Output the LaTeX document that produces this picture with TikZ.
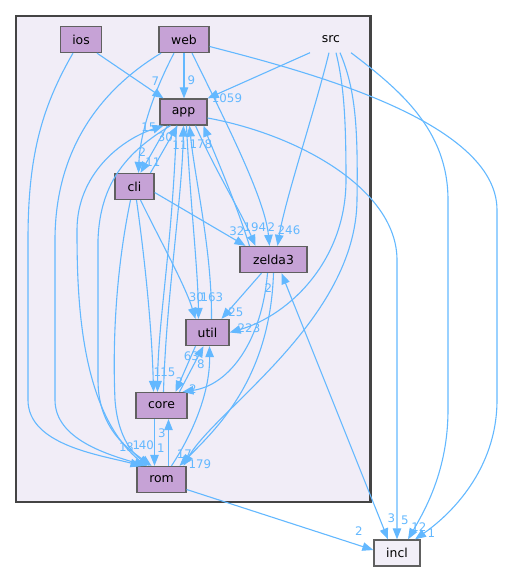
\documentclass[tikz,border=0pt]{standalone}
\usepackage{fontspec}
\setmainfont{DejaVu Sans}
\usetikzlibrary{arrows.meta}
\definecolor{edgecol}{HTML}{63B8FF}
\definecolor{dirfill}{HTML}{C6A2D6}
\definecolor{clusterfill}{HTML}{F1EDF7}
\definecolor{extfill}{HTML}{F2EFF8}
\definecolor{nodeborder}{HTML}{606060}
\definecolor{clusterborder}{HTML}{444444}
\begin{document}
\begin{tikzpicture}[x=1pt,y=-1pt,
  dirnode/.style={draw=nodeborder, fill=dirfill, line width=1.3pt, minimum height=26pt, inner sep=0pt, font=\fontsize{12.4}{14}\selectfont},
  extnode/.style={dirnode, fill=extfill},
  plainnode/.style={minimum height=26pt, minimum width=50pt, inner sep=0pt, font=\fontsize{12.4}{14}\selectfont},
  dep/.style={draw=edgecol, line width=1.1pt, -{Triangle[length=11pt,width=8.5pt]}},
  bidep/.style={draw=edgecol, line width=1.1pt, {Triangle[length=11pt,width=8.5pt]}-{Triangle[length=11pt,width=8.5pt]}},
  lbl/.style={text=edgecol, inner sep=0pt, font=\fontsize{11.8}{13}\selectfont},
]
\useasboundingbox (0,0) rectangle (504,571);
% cluster
\draw[draw=clusterborder, fill=clusterfill, line width=2.2pt] (16,16) rectangle (370.5,502);

% nodes
\node[dirnode, minimum width=41pt] (ios) at (81,39.5) {ios};
\node[dirnode, minimum width=50pt] (web) at (184,39.5) {web};
\node[plainnode] (src) at (331,39.5) {src};
\node[dirnode, minimum width=47pt] (app) at (183.5,112) {app};
\node[dirnode, minimum width=39pt] (cli) at (134.5,186.5) {cli};
\node[dirnode, minimum width=67pt] (zelda3) at (273.5,259.5) {zelda3};
\node[dirnode, minimum width=43pt] (util) at (207.5,332.5) {util};
\node[dirnode, minimum width=51pt] (core) at (161.5,405.5) {core};
\node[dirnode, minimum width=49pt] (rom) at (161.5,479.5) {rom};
\node[extnode, minimum width=46pt] (incl) at (397,553) {incl};

% edges from ios
\draw[dep] ([xshift=16pt]ios.south) -- ([xshift=-20pt]app.north);
\draw[dep] ([xshift=-8pt]ios.south) .. controls (40,110) and (28,160) .. (28,240) -- (28,400) .. controls (28,445) and (100,455) .. ([xshift=-20pt]rom.north);

% edges from web
\draw[dep] (web.south) -- (web.south |- app.north);
\draw[dep] ([xshift=-10pt]web.south) .. controls (152,95) and (140,135) .. ([xshift=4pt]cli.north);
\draw[dep] ([xshift=-23pt]web.south) .. controls (100,90) and (55,150) .. (55,240) -- (55,400) .. controls (55,440) and (110,455) .. ([xshift=-16pt]rom.north);
\draw[dep] ([xshift=8pt]web.south) .. controls (230,130) and (265,200) .. ([xshift=-4pt]zelda3.north);
\draw[dep] ([yshift=-7pt]web.east) .. controls (300,70) and (497,120) .. (497,210) -- (497,400) .. controls (497,470) and (450,515) .. ([xshift=18pt]incl.north);

% edges from src
\draw[dep] ([xshift=-21pt]src.south) -- (app.north east);
\draw[dep] ([xshift=-2pt]src.south) .. controls (315,110) and (285,200) .. ([xshift=4pt]zelda3.north);
\draw[dep] ([xshift=5pt]src.south) .. controls (344,85) and (346,120) .. (346,180) .. controls (346,260) and (290,315) .. (util.east);
\draw[dep] ([xshift=9pt]src.south) .. controls (356,90) and (358,130) .. (357,200) .. controls (356,320) and (215,410) .. ([xshift=22pt]rom.north);
\draw[dep] ([xshift=20pt]src.south) .. controls (400,90) and (448,130) .. (448,200) -- (448,410) .. controls (448,470) and (425,510) .. ([xshift=11pt]incl.north);

% edges around app
\draw[dep] ([xshift=-16pt]app.south) -- ([xshift=6pt]cli.north);
\draw[dep] ([xshift=16pt]cli.north) -- ([xshift=-6pt]app.south);
\draw[dep] ([xshift=-15pt]rom.north) .. controls (80,420) and (77,300) .. (77,230) .. controls (77,175) and (120,140) .. ([xshift=-20pt]app.south);
\draw[dep] ([xshift=-13pt]app.south) .. controls (130,150) and (100,180) .. (98,240) -- (98,380) .. controls (98,430) and (130,450) .. ([xshift=-10pt]rom.north);
\draw[dep] ([xshift=12pt]app.south) .. controls (215,170) and (240,210) .. ([xshift=-18pt]zelda3.north);
\draw[dep] ([xshift=-24pt]zelda3.north) .. controls (235,200) and (215,155) .. ([xshift=20pt]app.south);
\draw[dep] ([xshift=3pt]app.south) .. controls (190,200) and (198,270) .. ([xshift=-9pt]util.north);
\draw[dep] ([xshift=4pt]util.north) .. controls (212,250) and (195,180) .. ([xshift=6pt]app.south);
\draw[dep] ([xshift=-7pt]app.south) .. controls (172,250) and (158,320) .. ([xshift=-4pt]core.north);
\draw[dep] ([xshift=2pt]core.north) .. controls (166,300) and (182,200) .. (app.south);
\draw[dep] ([yshift=-6pt]app.east) .. controls (300,135) and (397,190) .. (397,260) -- (incl.north);

% edges from cli
\draw[dep] ([yshift=-6pt]cli.east) -- ([xshift=-28pt]zelda3.north);
\draw[dep] ([xshift=6pt]cli.south) .. controls (160,240) and (185,285) .. ([xshift=-12pt]util.north);
\draw[dep] ([xshift=2pt]cli.south) .. controls (145,260) and (152,330) .. ([xshift=-8pt]core.north);
\draw[dep] ([xshift=-4pt]cli.south) .. controls (118,260) and (112,330) .. (115,400) .. controls (118,440) and (135,455) .. ([xshift=-12pt]rom.north);

% edges from zelda3
\draw[dep] ([xshift=-12pt]zelda3.south) -- ([xshift=14pt]util.north);
\draw[dep] ([xshift=-6pt]zelda3.south) .. controls (262,340) and (230,385) .. ([xshift=21pt]core.north);
\draw[dep] (zelda3.south) .. controls (270,380) and (215,430) .. ([xshift=18pt]rom.north);
\draw[bidep] ([xshift=8pt]zelda3.south) -- ([xshift=-9pt]incl.north);

% util, core, rom
\draw[dep] ([xshift=-12pt]util.south) -- ([xshift=14pt]core.north);
\draw[dep] ([xshift=18pt]core.north) -- ([xshift=-4pt]util.south);
\draw[dep] ([xshift=10pt]rom.north) .. controls (195,430) and (210,390) .. ([xshift=2pt]util.south);
\draw[dep] ([xshift=7pt]rom.north) -- ([xshift=7pt]core.south);
\draw[dep] ([xshift=-7pt]core.south) -- ([xshift=-7pt]rom.north);
\draw[dep] ([yshift=-10pt]rom.east) -- ([yshift=3pt]incl.west);

% labels
\node[lbl] (l1) at (155.5,81) {7};
\node[lbl] (l2) at (191.5,80.5) {9};
\node[lbl] (l3) at (227,98.5) {1059};
\node[lbl] (l4) at (142.5,152.5) {2};
\node[lbl] (l5) at (153,162) {11};
\node[lbl] (l6) at (165.5,137) {30};
\node[lbl] (l7) at (149,127.5) {15};
\node[lbl] (l8) at (180,145) {11};
\node[lbl] (l9) at (201,144) {178};
\node[lbl] (l10) at (255,227) {194};
\node[lbl] (l11) at (237,231) {32};
\node[lbl] (l12) at (271.5,227) {2};
\node[lbl] (l13) at (289,230) {246};
\node[lbl] (l14) at (196.5,297) {30};
\node[lbl] (l15) at (212,297) {163};
\node[lbl] (l16) at (236,312) {25};
\node[lbl] (l17) at (249,328) {223};
\node[lbl] (l18) at (268.5,288) {2};
\node[lbl] (l19) at (191.5,356) {63};
\node[lbl] (l20) at (201,364) {8};
\node[lbl] (l21) at (168,372) {15};
\node[lbl] (l22) at (157.5,372) {1};
\node[lbl] (l23) at (179.5,382.5) {3};
\node[lbl] (l24) at (193,389) {2};
\node[lbl] (l25) at (162,433) {3};
\node[lbl] (l26) at (123,447) {1};
\node[lbl] (l27) at (130,447) {8};
\node[lbl] (l28) at (136.5,445) {1};
\node[lbl] (l29) at (146.5,445) {40};
\node[lbl] (l30) at (161,448) {1};
\node[lbl] (l31) at (184.5,454) {17};
\node[lbl] (l32) at (200,464) {179};
\node[lbl] (l33) at (359,531.5) {2};
\node[lbl] (l34) at (391.5,518) {3};
\node[lbl] (l35) at (405,520) {5};
\node[lbl] (l36) at (419,527) {12};
\node[lbl] (l37) at (431.5,533) {1};
\end{tikzpicture}
\end{document}
